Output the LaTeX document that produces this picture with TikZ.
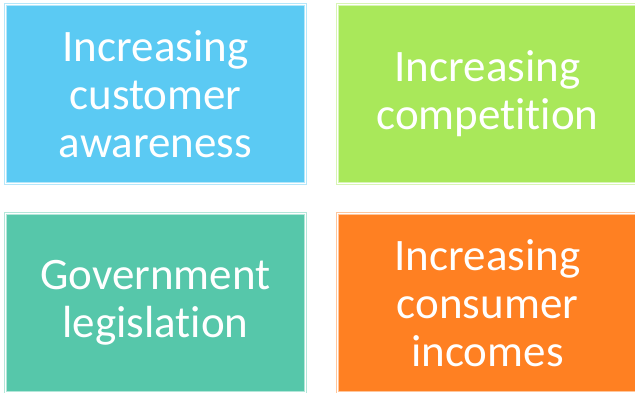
\documentclass[tikz,border=0pt]{standalone}
\usepackage{fontspec}
\setmainfont{Carlito}[RawFeature=-liga]
\usepackage{xcolor}
\definecolor{sky}{HTML}{5BCAF3}
\definecolor{leaf}{HTML}{A9E85A}
\definecolor{jade}{HTML}{56C7AA}
\definecolor{amber}{HTML}{FF8022}

\tikzset{
  tile/.style={draw=#1!45!white,fill=#1,double=white,double distance=.9pt,line width=.7pt,
    minimum width=300pt,minimum height=179pt,inner sep=0pt,align=center,text=white,
    font=\fontsize{45}{48}\selectfont}
}

\begin{document}
\begin{tikzpicture}[x=1pt,y=-1pt]
\useasboundingbox (0,0) rectangle (635,393);
\node[tile=sky] (aware) at (155.5,94) {Increasing\\customer\\awareness};
\node[tile=leaf] (compete) at (487.5,94) {Increasing\\competition};
\node[tile=jade] (govt) at (155.5,303) {Government\\legislation};
\node[tile=amber] (income) at (487.5,303) {Increasing\\consumer\\incomes};
\end{tikzpicture}
\end{document}
